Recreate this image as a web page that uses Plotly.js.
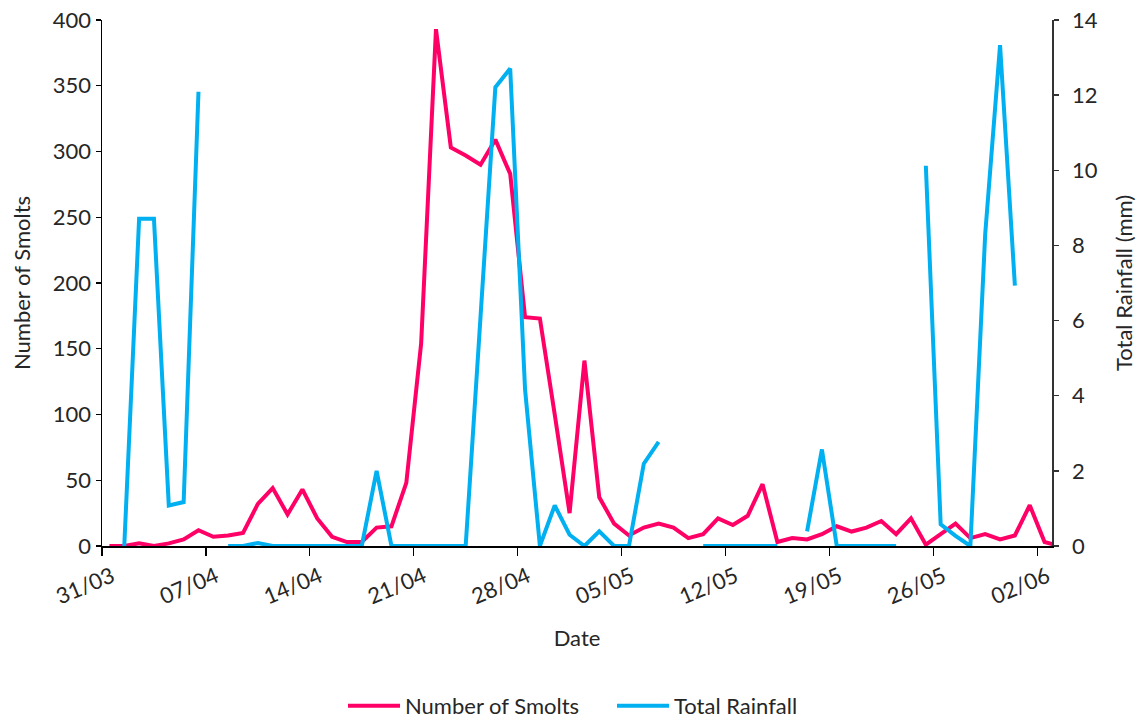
<!DOCTYPE html>
<html>
<head>
<meta charset="utf-8">
<script src="https://cdn.plot.ly/plotly-3.0.1.min.js"></script>
<style>html,body{margin:0;padding:0;background:#fff}#chart{width:1141px;height:720px}</style>
</head>
<body>
<div id="chart"></div>
<script>
// Daily dates (31/03 to 03/06)
const dates = [
 '2015-03-31','2015-04-01','2015-04-02','2015-04-03','2015-04-04','2015-04-05','2015-04-06','2015-04-07',
 '2015-04-08','2015-04-09','2015-04-10','2015-04-11','2015-04-12','2015-04-13','2015-04-14','2015-04-15',
 '2015-04-16','2015-04-17','2015-04-18','2015-04-19','2015-04-20','2015-04-21','2015-04-22','2015-04-23',
 '2015-04-24','2015-04-25','2015-04-26','2015-04-27','2015-04-28','2015-04-29','2015-04-30','2015-05-01',
 '2015-05-02','2015-05-03','2015-05-04','2015-05-05','2015-05-06','2015-05-07','2015-05-08','2015-05-09',
 '2015-05-10','2015-05-11','2015-05-12','2015-05-13','2015-05-14','2015-05-15','2015-05-16','2015-05-17',
 '2015-05-18','2015-05-19','2015-05-20','2015-05-21','2015-05-22','2015-05-23','2015-05-24','2015-05-25',
 '2015-05-26','2015-05-27','2015-05-28','2015-05-29','2015-05-30','2015-05-31','2015-06-01','2015-06-02',
 '2015-06-03'
];

// Number of Smolts (left axis)
const smolts = [
 0,0,2,0,2,5,12,7,
 8,10,32,44,24,43,21,7,
 3,3,14,15,48,154,393,303,
 297,290,309,283,174,173,100,25,
 141,37,17,8,14,17,14,6,
 9,21,16,23,47,3,6,5,
 9,15,11,14,19,9,21,1,
 9,17,6,9,5,8,31,3,
 0
];

// Total Rainfall in mm (right axis); null = no record
const rainfall = [
 null,0,8.71,8.71,1.08,1.17,12.09,null,
 0,0,0.08,0,0,0,0,0,
 0,0,2.0,0,0,0,0,0,
 0,6.1,12.21,12.71,4.17,0,1.08,0.3,
 0,0.39,0,0,2.19,2.77,null,null,
 0,0,0,0,0,0,null,0.39,
 2.57,0,0,0,0,0,null,10.12,
 0.58,0.27,0,8.3,13.33,6.93,null,null,
 null
];

const xRange = ['2015-03-31 00:00', '2015-06-03 00:00'];
const leftTicks = [0, 400, 50];
const rightTicks = [0, 14, 2];

// each daily value sits in the middle of its day slot
const xMid = dates.map(d => d + ' 12:00');

const RED = '#FF0066', BLUE = '#00B0F0';
const FONT = 'Lato, "Open Sans", sans-serif';
const TXT = '#262626';

const traces = [
  {x: xMid, y: smolts, type: 'scatter', mode: 'lines', name: 'Number of Smolts',
   line: {color: RED, width: 4}, yaxis: 'y', connectgaps: false},
  {x: xMid, y: rainfall, type: 'scatter', mode: 'lines', name: 'Total Rainfall',
   line: {color: BLUE, width: 4}, yaxis: 'y2', connectgaps: false}
];

const axCommon = {showgrid: false, zeroline: false, automargin: false,
  tickfont: {family: FONT, size: 22, color: TXT}};

const layout = {
  width: 1141, height: 720,
  margin: {l: 102, r: 89, t: 20, b: 174},
  paper_bgcolor: '#fff', plot_bgcolor: '#fff',
  font: {family: FONT, size: 22, color: TXT},
  showlegend: true,
  legend: {orientation: 'h', xref: 'container', yref: 'container',
           x: 343 / 1141, xanchor: 'left', y: (720 - 706) / 720, yanchor: 'middle',
           font: {family: FONT, size: 22, color: TXT}, itemwidth: 52, entrywidth: 202,
           traceorder: 'normal'},
  xaxis: Object.assign({}, axCommon, {
    type: 'date', range: xRange, tick0: xRange[0], dtick: 7 * 86400000, tickformat: '%d/%m',
    tickangle: -23, ticklabelshift: 10, ticks: 'outside', ticklen: 8, tickcolor: '#000', tickwidth: 1.3,
    showline: true, linecolor: '#000', linewidth: 1.5,
    title: {text: 'Date', font: {family: FONT, size: 22, color: TXT}, standoff: 22}
  }),
  yaxis: Object.assign({}, axCommon, {
    range: [leftTicks[0], leftTicks[1]], dtick: leftTicks[2], tick0: 0,
    ticks: 'outside', ticklen: 5, tickcolor: '#000', tickwidth: 1.3,
    showline: true, linecolor: '#000', linewidth: 1.5,
    title: {text: 'Number of Smolts', font: {family: FONT, size: 22, color: TXT}, standoff: 16}
  }),
  yaxis2: Object.assign({}, axCommon, {
    overlaying: 'y', side: 'right', anchor: 'x',
    range: [rightTicks[0], rightTicks[1]], dtick: rightTicks[2], tick0: 0,
    ticks: 'outside', ticklen: 5, tickcolor: '#333', tickwidth: 1.3, ticklabelstandoff: 9,
    showline: true, linecolor: '#333', linewidth: 1.5,
    title: {text: 'Total Rainfall (mm)', font: {family: FONT, size: 22, color: TXT}, standoff: 20}
  }),
  yaxis3: {overlaying: 'y', side: 'left', anchor: 'x', range: [leftTicks[0], leftTicks[1]],
    dtick: leftTicks[2], tick0: 0, ticks: 'inside', ticklen: 5, tickcolor: '#000', tickwidth: 1.3,
    showticklabels: false, showline: false, showgrid: false, zeroline: false, automargin: false},
  yaxis4: {overlaying: 'y', side: 'right', anchor: 'x', range: [rightTicks[0], rightTicks[1]],
    dtick: rightTicks[2], tick0: 0, ticks: 'inside', ticklen: 5, tickcolor: '#333', tickwidth: 1.3,
    showticklabels: false, showline: false, showgrid: false, zeroline: false, automargin: false}
};

Plotly.newPlot('chart', traces, layout, {displayModeBar: false, staticPlot: true});
</script>
</body>
</html>
